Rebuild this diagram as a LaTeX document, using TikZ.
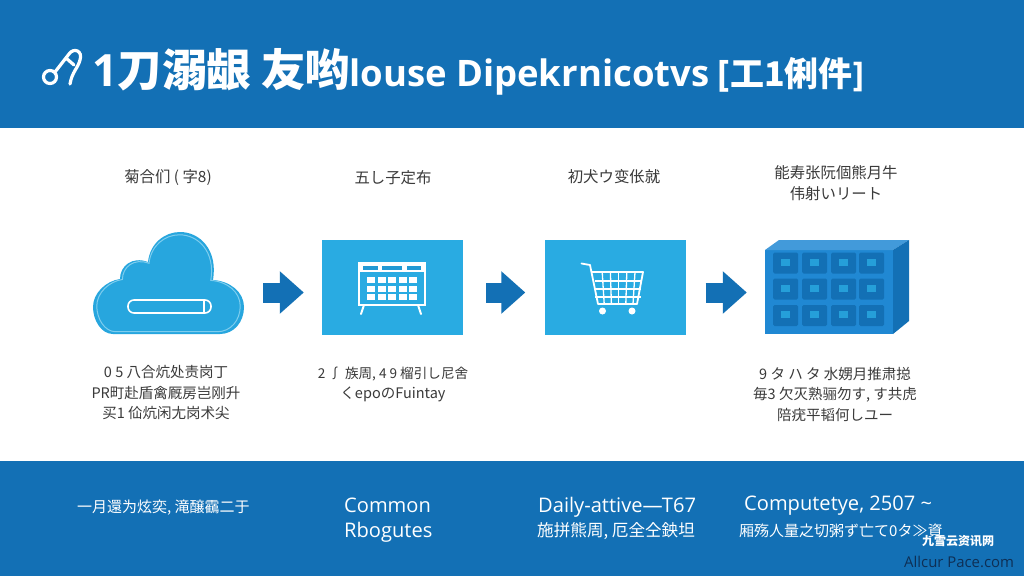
\documentclass[tikz,border=0pt]{standalone}
\usepackage{fontspec}
\setmainfont{Open Sans}
\newfontfamily\cjk{Noto Sans CJK JP}
\usetikzlibrary{arrows.meta}
\definecolor{bandblue}{HTML}{1370B5}
\definecolor{panelblue}{HTML}{29ABE2}
\definecolor{blockblue}{HTML}{2088D3}
\definecolor{inkgrey}{HTML}{3A3A3A}
\definecolor{marknavy}{HTML}{0E2F55}
\tikzset{
  heading/.style={text=inkgrey,font=\cjk\fontsize{15.4}{20.5}\selectfont,align=center,inner sep=0pt},
  caption/.style={text=inkgrey,font=\cjk\fontsize{14.5}{20.5}\selectfont,align=center,inner sep=0pt},
  bandcjk/.style={text=white,font=\cjk\fontsize{15}{20}\selectfont,inner sep=0pt},
  bandlatin/.style={text=white,font=\fontsize{20.1}{25}\selectfont,inner sep=0pt,align=left},
  panelbox/.style={fill=panelblue,minimum width=141pt,minimum height=95pt,inner sep=0pt},
  blockarrow/.style={draw=bandblue,line width=20pt,-{Triangle[length=24pt,width=41pt]},shorten <=19pt,shorten >=18pt},
}
\newcommand{\cloudpath}{(113,334) .. controls (101,334) and (93,320) .. (93,307)
  .. controls (93,293) and (106,281) .. (120,279)
  .. controls (120,266) and (132,256) .. (148,262)
  .. controls (150,243) and (165,232) .. (180,232)
  .. controls (200,232) and (218,250) .. (213,280)
  .. controls (230,281) and (244,292) .. (244,307)
  .. controls (244,322) and (234,334) .. (220,334) -- cycle}
\begin{document}
\begin{tikzpicture}[x=1pt,y=-1pt]
\useasboundingbox (0,0) rectangle (1024,576);
\fill[white] (0,0) rectangle (1024,576);
\fill[bandblue] (0,0) rectangle (1024,128);
\fill[bandblue] (0,461) rectangle (1024,576);

% title row
\draw[white,line width=3.2pt,line cap=round] (50,77) circle (6.5);
\draw[white,line width=3.2pt,line cap=round] (55,72) -- (69,54) .. controls (74,47) and (83,51) .. (80,60) .. controls (78,68) and (72,72) .. (70,84);
\draw[white,line width=3.2pt,line cap=round] (66,58) -- (74,65);
\node[text=white,anchor=west,inner sep=0pt,font=\bfseries\fontsize{44.5}{45}\selectfont] (title) at (92,72)
  {1{\cjk 刀溺龈 友哟}\hspace{-1pt}{\fontsize{36.5}{37}\selectfont louse Dipekrnicotvs \hspace{-1pt}[}{\cjk\fontsize{34}{37}\selectfont 工1俐件}{\fontsize{34}{37}\selectfont ]}};

% headings
\node[heading] (headone) at (168,178) {菊合们 ( 字8)};
\node[heading] (headtwo) at (393,178) {五し子定布};
\node[heading] (headthree) at (614,177) {初犬ウ变伥就};
\node[heading] (headfour) at (836,183) {能寿张阮個熊月牛\\伟射いリート};

% cloud
\node[minimum width=151pt,minimum height=95pt,inner sep=0pt] (cloud) at (168.5,287.5) {};
\fill[panelblue!92!bandblue] \cloudpath;
\begin{scope}[shift={(168.5,288)},scale=.95,shift={(-168.5,-288)}]
\draw[panelblue!60!white,line width=1pt] \cloudpath;
\end{scope}
\draw[white,line width=1.6pt,rounded corners=6pt] (128,300) rectangle (211,313);
\draw[white,line width=1.2pt] (204,301) -- (204,312);

% panels
\node[panelbox] (tablepanel) at (392.5,287.5) {};
\node[panelbox] (cartpanel) at (615,287.5) {};
\node[minimum width=144pt,minimum height=95pt,inner sep=0pt] (storeblock) at (837,287.5) {};

% table icon
\draw[white,line width=2pt] (359,263) rectangle (425,305);
\draw[white,line width=2pt,line cap=round] (364,305) -- (361,314);
\draw[white,line width=2pt,line cap=round] (418,305) -- (421,314);
\fill[white] (359,263) rectangle (425,272);
\fill[panelblue!70!bandblue] (363,266) rectangle (378,270);
\fill[panelblue!70!bandblue] (382,266) rectangle (402,270);
\fill[panelblue!70!bandblue] (407,266) rectangle (421,270);
\foreach \i in {0,1,2}
  \foreach \j in {0,1,2,3,4}
    \fill[white] (367+\j*10.5,277+\i*8.5) rectangle +(8,6);

% cart icon
\draw[white,line width=1.8pt,line cap=round,line join=round] (581.5,263.5) -- (590,265) -- (598,304) -- (637,304) -- (643,272) -- (592,272);
\foreach \j in {1,2,3,4,5}
  \draw[white,line width=1.3pt] (594+\j*8.2,272) -- (597+\j*7.2,304);
\foreach \i in {281,289,297}
  \draw[white,line width=1.3pt] (595,\i) -- (641,\i);
\fill[white] (602.5,311) circle (3.5);
\fill[white] (632,311) circle (3.5);

% storage block
\fill[blockblue] (765,250) rectangle (893,334);
\fill[blockblue!85!white] (765,250) -- (779,240) -- (909,240) -- (893,250) -- cycle;
\fill[bandblue] (893,250) -- (909,240) -- (909,321) -- (893,334) -- cycle;
\foreach \i/\iy in {0/252.5,1/278.5,2/305}
  \foreach \j/\jx in {0/773,1/802,2/831,3/859}
  {
    \fill[bandblue,rounded corners=1.5pt] (\jx,\iy) rectangle +(25,21);
    \fill[panelblue!80!bandblue] (\jx+8,\iy+6) rectangle +(9,7);
  }

% arrows between
\draw[blockarrow] ([yshift=-5pt]cloud.east) -- ([yshift=-5pt]tablepanel.west);
\draw[blockarrow,shorten <=23pt,shorten >=19pt] ([yshift=-5pt]tablepanel.east) -- ([yshift=-5pt]cartpanel.west);
\draw[blockarrow,shorten <=20pt] ([yshift=-5pt]cartpanel.east) -- ([yshift=-5pt]storeblock.west);

% captions
\node[caption] (capone) at (166,393) {0 5 八合炕处责岗丁\\PR町赴盾禽厩房岂刚升\\买1 佡炕闲尢岗术尖};
\node[caption] (captwo) at (393,384.5) {\fontsize{13.6}{20.5}\selectfont 2 ∫ 族周, 4 9 榴引し尼舍\\くepoのFuintay};
\node[caption] (capfour) at (835,394) {9 タ ハ タ 水娚月推肃搃\\毎3 欠灭熟骊勿す, す共虎\\陪疣平韬何しユー};

% footer row
\node[bandcjk,anchor=west] (footone) at (77,508) {一月還为炫奕, 滝醸靍二于};
\node[bandlatin,anchor=north west] (foottwo) at (344,498) {Common\\Rbogutes};
\node[bandlatin,anchor=west] (footthree) at (538,507) {Daily-attive—T67};
\node[bandcjk,anchor=west,font=\cjk\fontsize{16.6}{20}\selectfont] (footthreeb) at (537,531) {施拼熊周, 厄全仝鉠坦};
\node[bandlatin,anchor=west] (footfour) at (744,506) {Computetye, 2507 \textasciitilde};
\node[bandcjk,anchor=west] (footfourb) at (739,531) {厢殇人量之切粥ず亡て0タ≫資};

% marks in the corner
\node[text=white,anchor=west,inner sep=0pt,font=\cjk\bfseries\fontsize{12}{12}\selectfont] (markcjk) at (922,541) {九雪云资讯网};
\node[text=marknavy,anchor=west,inner sep=0pt,font=\fontsize{14.9}{15}\selectfont] (marklatin) at (904,562) {Allcur Pace.com};
\end{tikzpicture}
\end{document}
